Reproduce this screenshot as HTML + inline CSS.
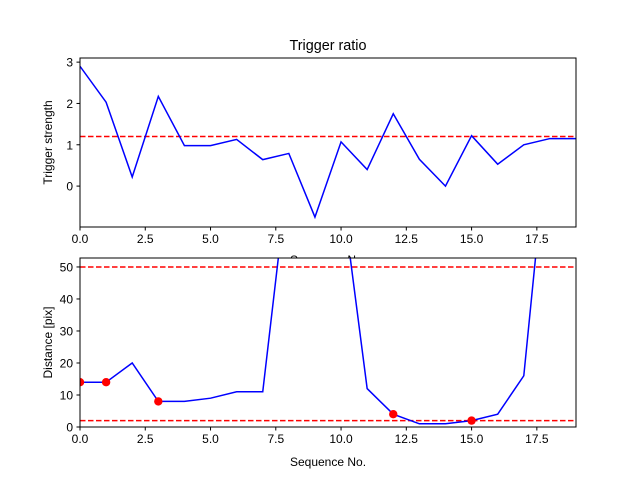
<!DOCTYPE html>
<html><head><meta charset="utf-8"><style>
body{margin:0;background:#fff}
svg text{font-family:"Liberation Sans","DejaVu Sans",sans-serif;font-size:12px;fill:#000}
</style></head><body>
<svg id="c" width="640" height="480" viewBox="0 0 640 480"></svg>
<script>
const seqTop=[0,1,2,3,4,5,6,7,8,9,10,11,12,13,14,15,16,17,18,19];
const strength=[2.9,2.03,0.22,2.17,0.98,0.98,1.13,0.64,0.79,-0.75,1.07,0.4,1.75,0.65,0.0,1.22,0.53,1.0,1.15,1.15];
const strengthThreshold=[1.2];
const seqBot=[0,1,2,3,4,5,6,7,8,9,10,11,12,13,14,15,16,17,18,19];
const distance=[14,14,20,8,8,9,11,11,81,80,75,12,4,1,1,2,4,16,98,98];
const markerIdx=[0,1,3,12,15];
const distLines=[50,2];
const xTicks=[0,2.5,5,7.5,10,12.5,15,17.5];
const xTickLabels=["0.0","2.5","5.0","7.5","10.0","12.5","15.0","17.5"];
const yTicksTop=[0,1,2,3];
const yTicksBot=[0,10,20,30,40,50];

const NS="http://www.w3.org/2000/svg";
const svg=document.getElementById('c');
function el(t,a,p){const e=document.createElementNS(NS,t);for(const k in a)e.setAttribute(k,a[k]);(p||svg).appendChild(e);return e;}
const L=80,R=576;
function panel(top,bot,ymin,ymax,xs,ys,yt,hl,name,ylabel){
  const sx=v=>L+(v-0)/(19-0)*(R-L);
  const sy=v=>bot-(v-ymin)/(ymax-ymin)*(bot-top);
  const g=el('g',{});
  
  
  const cid='clip-'+name;
  const cp=el('clipPath',{id:cid},g);el('rect',{x:L,y:top,width:R-L,height:bot-top},cp);
  el('rect',{x:L,y:top,width:R-L,height:bot-top,fill:'#fff'},g);
  const pg=el('g',{'clip-path':'url(#'+cid+')'},g);
  hl.forEach(h=>{const l=el('line',{x1:L,x2:R,y1:sy(h),y2:sy(h),stroke:'#f00','stroke-width':1.5,'stroke-dasharray':'5.5,2.5'},pg);
    
    });
  const p=el('polyline',{points:xs.map((x,i)=>sx(x)+','+sy(ys[i])).join(' '),fill:'none',stroke:'#00f','stroke-width':1.5},pg);
  
  
  const fr=el('rect',{x:L,y:top,width:R-L,height:bot-top,fill:'none',stroke:'#000','stroke-width':1},g);
  
  
  xTicks.forEach((t,i)=>{el('line',{x1:sx(t),x2:sx(t),y1:bot,y2:bot+3.5,stroke:'#000'},g);
    const tx=el('text',{x:sx(t),y:bot+16,'text-anchor':'middle'},g);tx.textContent=xTickLabels[i];
    
    });
  yt.forEach(t=>{el('line',{x1:L-3.5,x2:L,y1:sy(t),y2:sy(t),stroke:'#000'},g);
    const tx=el('text',{x:L-7,y:sy(t)+4.5,'text-anchor':'end'},g);tx.textContent=t;
    
    });
  const xl=el('text',{x:(L+R)/2,y:name==='top-panel'?bot+37:bot+39,'text-anchor':'middle'},g);xl.textContent='Sequence No.';
  
  
  const yl=el('text',{x:0,y:0,'text-anchor':'middle',transform:'translate(52,'+(top+bot)/2+') rotate(-90)'},g);yl.textContent=ylabel;
  
  
  return {sx,sy,pg};
}
panel(58,227,-0.99,3.1,seqTop,strength,yTicksTop,strengthThreshold,'top-panel','Trigger strength');
const b=panel(258,427,0,52.8,seqBot,distance,yTicksBot,distLines,'bottom-panel','Distance [pix]');
markerIdx.forEach(i=>{const c=el('circle',{cx:b.sx(seqBot[i]),cy:b.sy(distance[i]),r:4.2,fill:'#f00'},b.pg);
  
  });
const t=el('text',{x:328,y:50,'text-anchor':'middle'});t.textContent='Trigger ratio';


t.style.fontSize='14.4px';
</script>
</body></html>
